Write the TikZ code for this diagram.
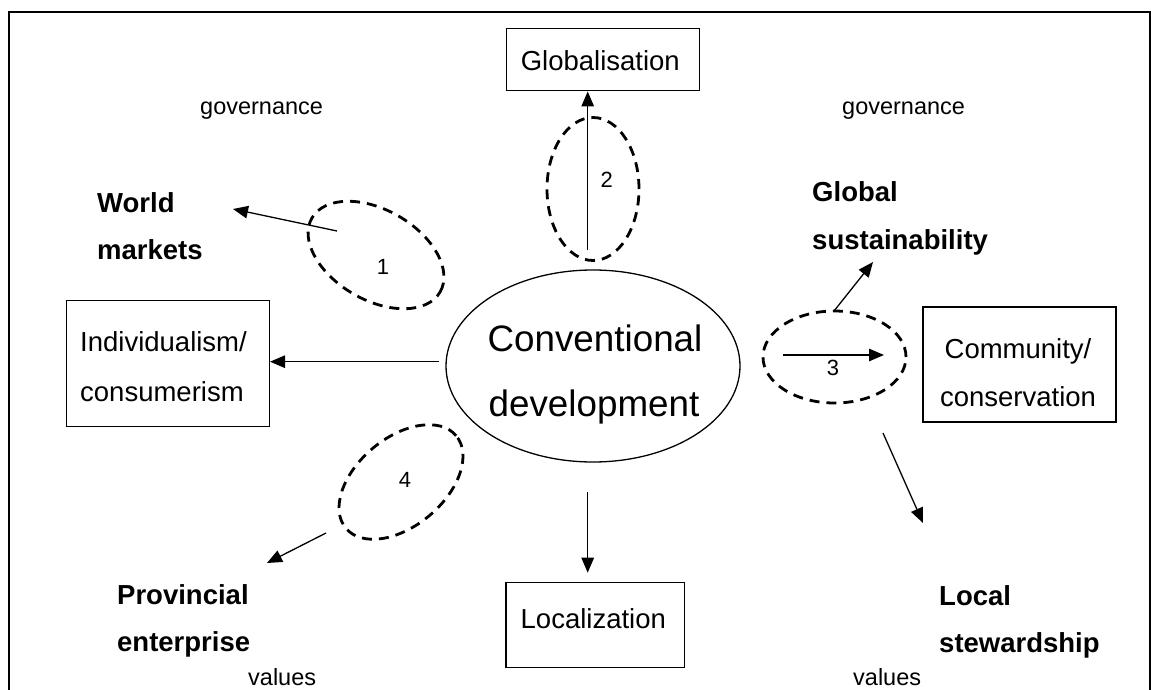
\documentclass[tikz,border=0pt]{standalone}
\usepackage{fontspec}
\setmainfont{Liberation Sans}
\usetikzlibrary{arrows.meta,shapes.geometric}
\begin{document}
\begin{tikzpicture}[x=1pt,y=-1pt,
  box/.style={draw, line width=1.5pt, rectangle, inner sep=0pt},
  dashell/.style={draw, ellipse, line width=2.8pt, dash pattern=on 10pt off 7pt, inner sep=0pt},
  arr/.style={line width=1.3pt, -{Triangle[length=15pt,width=12.5pt]}},
  boxtxt/.style={font=\fontsize{27.5}{33}\selectfont, inner sep=0pt},
  boldtxt/.style={font=\fontsize{27.5}{33}\selectfont\bfseries, inner sep=0pt, anchor=base west},
  smalltxt/.style={font=\fontsize{23.5}{28}\selectfont, inner sep=0pt, anchor=base west},
  numtxt/.style={font=\fontsize{22}{26}\selectfont, inner sep=0pt},
  hugetxt/.style={font=\fontsize{36.8}{44}\selectfont, inner sep=0pt, anchor=base}]
\useasboundingbox (0,0) rectangle (1151,690);
% frame (open at the bottom)
\draw[line width=2pt] (9,690) -- (9,12) -- (1150,12) -- (1150,690);

% boxes
\node[box, minimum width=192.6pt, minimum height=62.4pt] (glob) at (603,59.5) {};
\node[boxtxt, anchor=base] (globt) at (600.3,70.7) {Globalisation};
\node[box, minimum width=178.3pt, minimum height=85pt] (loc) at (595.2,625.2) {};
\node[boxtxt, anchor=base] (loct) at (593.3,628.3) {Localization};
\node[box, minimum width=202.6pt, minimum height=126pt] (ind) at (168,363.7) {};
\node[boxtxt, anchor=base west] (indt1) at (80,351.7) {Individualism/};
\node[boxtxt, anchor=base west] (indt2) at (80,401.7) {consumerism};
\node[box, minimum width=193pt, minimum height=115pt] (com) at (1019.5,364.5) {};
\node[boxtxt, anchor=base] (comt1) at (1018,358.3) {Community/};
\node[boxtxt, anchor=base] (comt2) at (1018,406.7) {conservation};

% central ellipse
\node[draw, ellipse, line width=1.3pt, minimum width=294pt, minimum height=192pt, inner sep=0pt] (conv) at (593,366) {};
\node[hugetxt] (convt1) at (595,351) {Conventional};
\node[hugetxt] (convt2) at (594,416) {development};

% dashed ellipses with numbers
\node[dashell, minimum width=148pt, minimum height=90pt, rotate=-30] (e1) at (376,255) {};
\node[numtxt] (n1) at (383,267) {1};
\node[dashell, minimum width=92pt, minimum height=143pt] (e2) at (593,189) {};
\node[numtxt] (n2) at (606.7,180) {2};
\node[dashell, minimum width=143pt, minimum height=92pt] (e3) at (834.5,357) {};
\node[numtxt] (n3) at (833,368) {3};
\node[dashell, minimum width=144pt, minimum height=88pt, rotate=40] (e4) at (401,482) {};
\node[numtxt] (n4) at (405,480) {4};

% labels
\node[smalltxt] (govl) at (200,115) {governance};
\node[smalltxt] (govr) at (842,115) {governance};
\node[boldtxt] (world1) at (97,212.3) {World};
\node[boldtxt] (world2) at (97,259) {markets};
\node[boldtxt] (gs1) at (812,201.7) {Global};
\node[boldtxt] (gs2) at (812,249) {sustainability};
\node[boldtxt] (pe1) at (117,604) {Provincial};
\node[boldtxt] (pe2) at (117,651.5) {enterprise};
\node[boldtxt] (ls1) at (939,605) {Local};
\node[boldtxt] (ls2) at (939,652.5) {stewardship};
\node[smalltxt] (vall) at (248,685.5) {values};
\node[smalltxt] (valr) at (853,685.5) {values};

% connector end points
\coordinate (a1s) at (337,231);
\coordinate (a1e) at (233,209);
\coordinate (a2s) at (587.7,250);
\coordinate (a3s) at (439,361.7);
\coordinate (a4s) at (783,355);
\coordinate (a4e) at (884,355);
\coordinate (a5s) at (834,311);
\coordinate (a5e) at (873,262);
\coordinate (a6s) at (883,433);
\coordinate (a6e) at (923,523);
\coordinate (a7s) at (326,533);
\coordinate (a7e) at (267,563);
\coordinate (a8s) at (587.7,491.7);
\coordinate (a8e) at (587.7,572.7);

% connectors
\draw[arr] (a1s) -- (a1e);
\draw[arr] (a2s) -- (a2s |- glob.south);
\draw[arr] (a3s) -- (a3s -| ind.east);
\draw[arr] (a4s) -- (a4e);
\draw[arr] (a5s) -- (a5e);
\draw[arr] (a6s) -- (a6e);
\draw[arr] (a7s) -- (a7e);
\draw[arr] (a8s) -- (a8e);
\end{tikzpicture}
\end{document}
